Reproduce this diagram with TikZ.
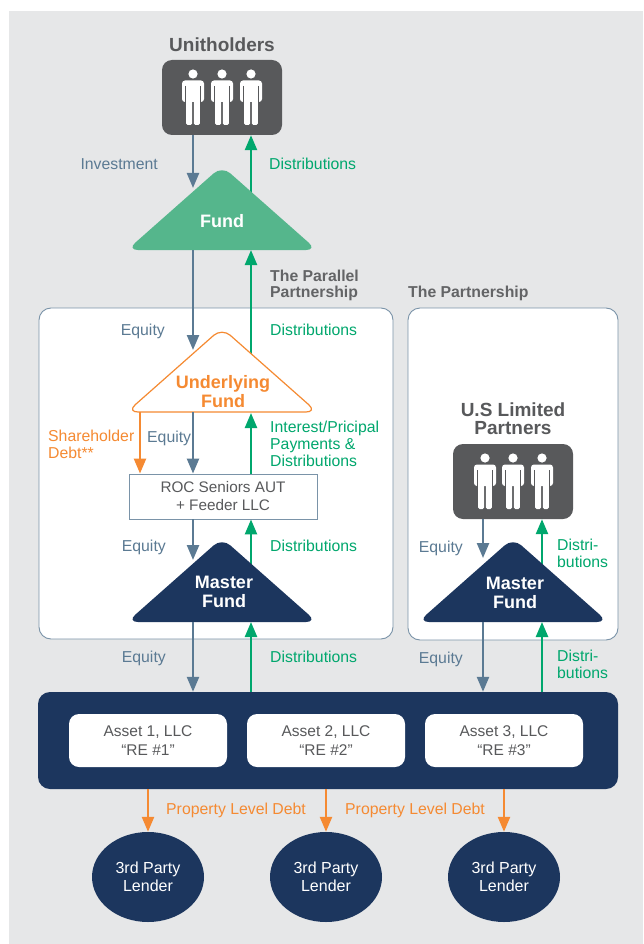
\documentclass[tikz,border=0pt]{standalone}
\usepackage{fontspec}
\setmainfont{Liberation Sans}
\usetikzlibrary{arrows.meta,shapes.geometric}
\definecolor{bg}{HTML}{E6E7E8}
\definecolor{dgrey}{HTML}{58595B}
\definecolor{hgrey}{HTML}{636466}
\definecolor{slate}{HTML}{5B7A93}
\definecolor{grn}{HTML}{00A76D}
\definecolor{fundgreen}{HTML}{55B68C}
\definecolor{orng}{HTML}{F58A32}
\definecolor{navy}{HTML}{1C365E}
\definecolor{bord}{HTML}{7A93A8}
\tikzset{
  lbl/.style={font=\fontsize{15.8}{17}\selectfont, inner sep=0, align=left},
  eqlbl/.style={lbl, text=slate, anchor=base east, align=right},
  dslbl/.style={lbl, text=grn, anchor=base west},
  orlbl/.style={lbl, text=orng, anchor=base west},
  ttl/.style={font=\fontsize{19}{18}\selectfont\bfseries, text=dgrey, inner sep=0, align=center},
  sect/.style={font=\fontsize{15.8}{16}\selectfont\bfseries, text=hgrey, inner sep=0, align=left},
  tritext/.style={font=\fontsize{18}{19}\selectfont\bfseries, text=white, inner sep=0, align=center},
  tip/.style={-{Triangle[width=12,length=15]}},
  eqarrow/.style={draw=slate, line width=2.4, tip},
  dsarrow/.style={draw=grn, line width=2.4, tip},
  debtarrow/.style={draw=orng, line width=2.4, tip},
  tri/.style={rounded corners=11},
  peoplebox/.style={fill=dgrey, rounded corners=10, minimum width=120, minimum height=75, inner sep=0},
  framebox/.style={fill=white, draw=bord, line width=0.9, rounded corners=12, inner sep=0},
  rocbox/.style={fill=white, draw=bord, line width=0.9, minimum width=188, minimum height=45, inner sep=0,
    font=\fontsize{15.3}{18}\selectfont, text=dgrey, align=center},
  assetbar/.style={fill=navy, rounded corners=12, minimum width=580, minimum height=97, inner sep=0},
  assetbox/.style={fill=white, rounded corners=10, minimum width=158, minimum height=53, inner sep=0,
    font=\fontsize{15.5}{19}\selectfont, text=dgrey, align=center},
  lender/.style={ellipse, fill=navy, minimum width=112, minimum height=90, inner sep=0,
    font=\fontsize{16}{18}\selectfont, text=white, align=center},
  person/.pic={
    \fill[white] (0,0) circle (4.6);
    \fill[white, rounded corners=3] (-11,6.5) rectangle (11,28);
    \fill[white, rounded corners=1.5] (-6.8,22) rectangle (-0.8,51);
    \fill[white, rounded corners=1.5] (0.8,22) rectangle (6.8,51);
    \draw[dgrey, line width=1.3] (-7.6,12) -- (-7.6,29) (7.6,12) -- (7.6,29);
  }
}
\begin{document}
\begin{tikzpicture}[x=1pt,y=-1pt]
\useasboundingbox (0,0) rectangle (643,944);
\fill[white] (0,0) rectangle (643,944);
\fill[bg] (9,11) rectangle (643,944);

% frames
\node[framebox, minimum width=354, minimum height=331] (pp) at (216,473.5) {};
\node[framebox, minimum width=210, minimum height=332] (pt) at (513,474) {};
\node[sect, anchor=west] (ppt) at (270,285.9) {The Parallel\\Partnership};
\node[sect, anchor=base west] (ptt) at (408,297) {The Partnership};

% people boxes
\node[ttl, anchor=base] (unitt) at (222,52) {Unitholders};
\node[peoplebox] (unit) at (222,97.5) {};
\pic at (193,74) {person};
\pic at (222,74) {person};
\pic at (251,74) {person};

\node[ttl] (uslpt) at (513,419) {U.S Limited\\Partners};
\node[peoplebox] (uslp) at (513,481.5) {};
\pic at (485,458) {person};
\pic at (513,458) {person};
\pic at (542,458) {person};

% ROC box
\node[rocbox] (roc) at (223,496.5) {ROC Seniors AUT\\+ Feeder LLC};

% asset bar
\node[assetbar] (bar) at (328,740.5) {};
\node[assetbox] (a1) at (148,740.5) {Asset 1, LLC\\“RE \#1”};
\node[assetbox] (a2) at (326,740.5) {Asset 2, LLC\\“RE \#2”};
\node[assetbox] (a3) at (504,740.5) {Asset 3, LLC\\“RE \#3”};

% lenders
\node[lender] (l1) at (148,877) {3rd Party\\Lender};
\node[lender] (l2) at (326,877) {3rd Party\\Lender};
\node[lender] (l3) at (504,877) {3rd Party\\Lender};

% triangle anchor coordinates
\coordinate (fTL) at (193,188);
\coordinate (fTR) at (251,200);
\coordinate (fBL) at (193,250);
\coordinate (fBR) at (251,250);
\coordinate (ufTL) at (193,350);
\coordinate (ufTR) at (251,362);
\coordinate (ufBO) at (140,412);
\coordinate (ufBL) at (193,412);
\coordinate (ufBR) at (251,413);
\coordinate (mTL) at (193,560);
\coordinate (mTR) at (251,572);
\coordinate (mBL) at (193,622);
\coordinate (mBR) at (251,622);
\coordinate (m2TL) at (483,558);
\coordinate (m2TR) at (542,572);
\coordinate (m2BL) at (483,622);
\coordinate (m2BR) at (542,622);

% arrows starting inside triangles (drawn first)
\draw[dsarrow] (fTR) -- (unit.south -| fTR);
\draw[dsarrow] (ufTR) -- (fBR);
\draw[dsarrow] (mTR) -- (roc.south -| mTR);
\draw[dsarrow] (m2TR) -- (uslp.south -| m2TR);

% triangles
\fill[fundgreen, tri] (222,166) -- (317,250) -- (127,250) -- cycle;
\draw[orng, fill=white, line width=1.2, tri] (222,328) -- (317,412) -- (127,412) -- cycle;
\fill[navy, tri] (222,538) -- (317,622) -- (127,622) -- cycle;
\fill[navy, tri] (513,538) -- (608,622) -- (418,622) -- cycle;

\node[tritext, anchor=base] (fundt) at (222,227) {Fund};
\node[tritext, text=orng] (uft) at (223,391.5) {Underlying\\Fund};
\node[tritext] (mft) at (224,592) {Master\\Fund};
\node[tritext] (m2t) at (515,592.5) {Master\\Fund};

% remaining arrows
\draw[eqarrow] (unit.south -| fTL) -- (fTL);
\draw[eqarrow] (fBL) -- (ufTL);
\draw[debtarrow] (ufBO) -- (roc.north -| ufBO);
\draw[eqarrow] (ufBL) -- (roc.north -| ufBL);
\draw[dsarrow] (roc.north -| ufBR) -- (ufBR);
\draw[eqarrow] (roc.south -| mTL) -- (mTL);
\draw[eqarrow] (mBL) -- (bar.north -| mBL);
\draw[dsarrow] (bar.north -| mBR) -- (mBR);
\draw[eqarrow] (uslp.south -| m2TL) -- (m2TL);
\draw[eqarrow] (m2BL) -- (bar.north -| m2BL);
\draw[dsarrow] (bar.north -| m2BR) -- (m2BR);
\draw[debtarrow] (bar.south -| l1) -- (l1.north);
\draw[debtarrow] (bar.south -| l2) -- (l2.north);
\draw[debtarrow] (bar.south -| l3) -- (l3.north);

% labels
\node[eqlbl] (lb1) at (158,170) {Investment};
\node[dslbl] (lb2) at (269,170) {Distributions};
\node[eqlbl] (lb3) at (165,335) {Equity};
\node[dslbl] (lb4) at (270,335) {Distributions};
\node[lbl, text=orng, anchor=west] (lb5) at (48,444.8) {Shareholder\\Debt**};
\node[lbl, text=slate, anchor=base west] (lb6) at (147,442) {Equity};
\node[lbl, text=grn, anchor=west] (lb7) at (270,444.2) {Interest/Pricipal\\Payments \&\\Distributions};
\node[eqlbl] (lb8) at (166,551) {Equity};
\node[dslbl] (lb9) at (270,551) {Distributions};
\node[eqlbl] (lb10) at (166,662) {Equity};
\node[dslbl] (lb11) at (270,662) {Distributions};
\node[eqlbl] (lb12) at (463,552) {Equity};
\node[lbl, text=grn, anchor=west] (lb13) at (557,553.2) {Distri-\\butions};
\node[eqlbl] (lb14) at (463,663) {Equity};
\node[lbl, text=grn, anchor=west] (lb15) at (557,664.2) {Distri-\\butions};
\node[orlbl] (lb16) at (166,814) {Property Level Debt};
\node[orlbl] (lb17) at (345,814) {Property Level Debt};
\end{tikzpicture}
\end{document}
